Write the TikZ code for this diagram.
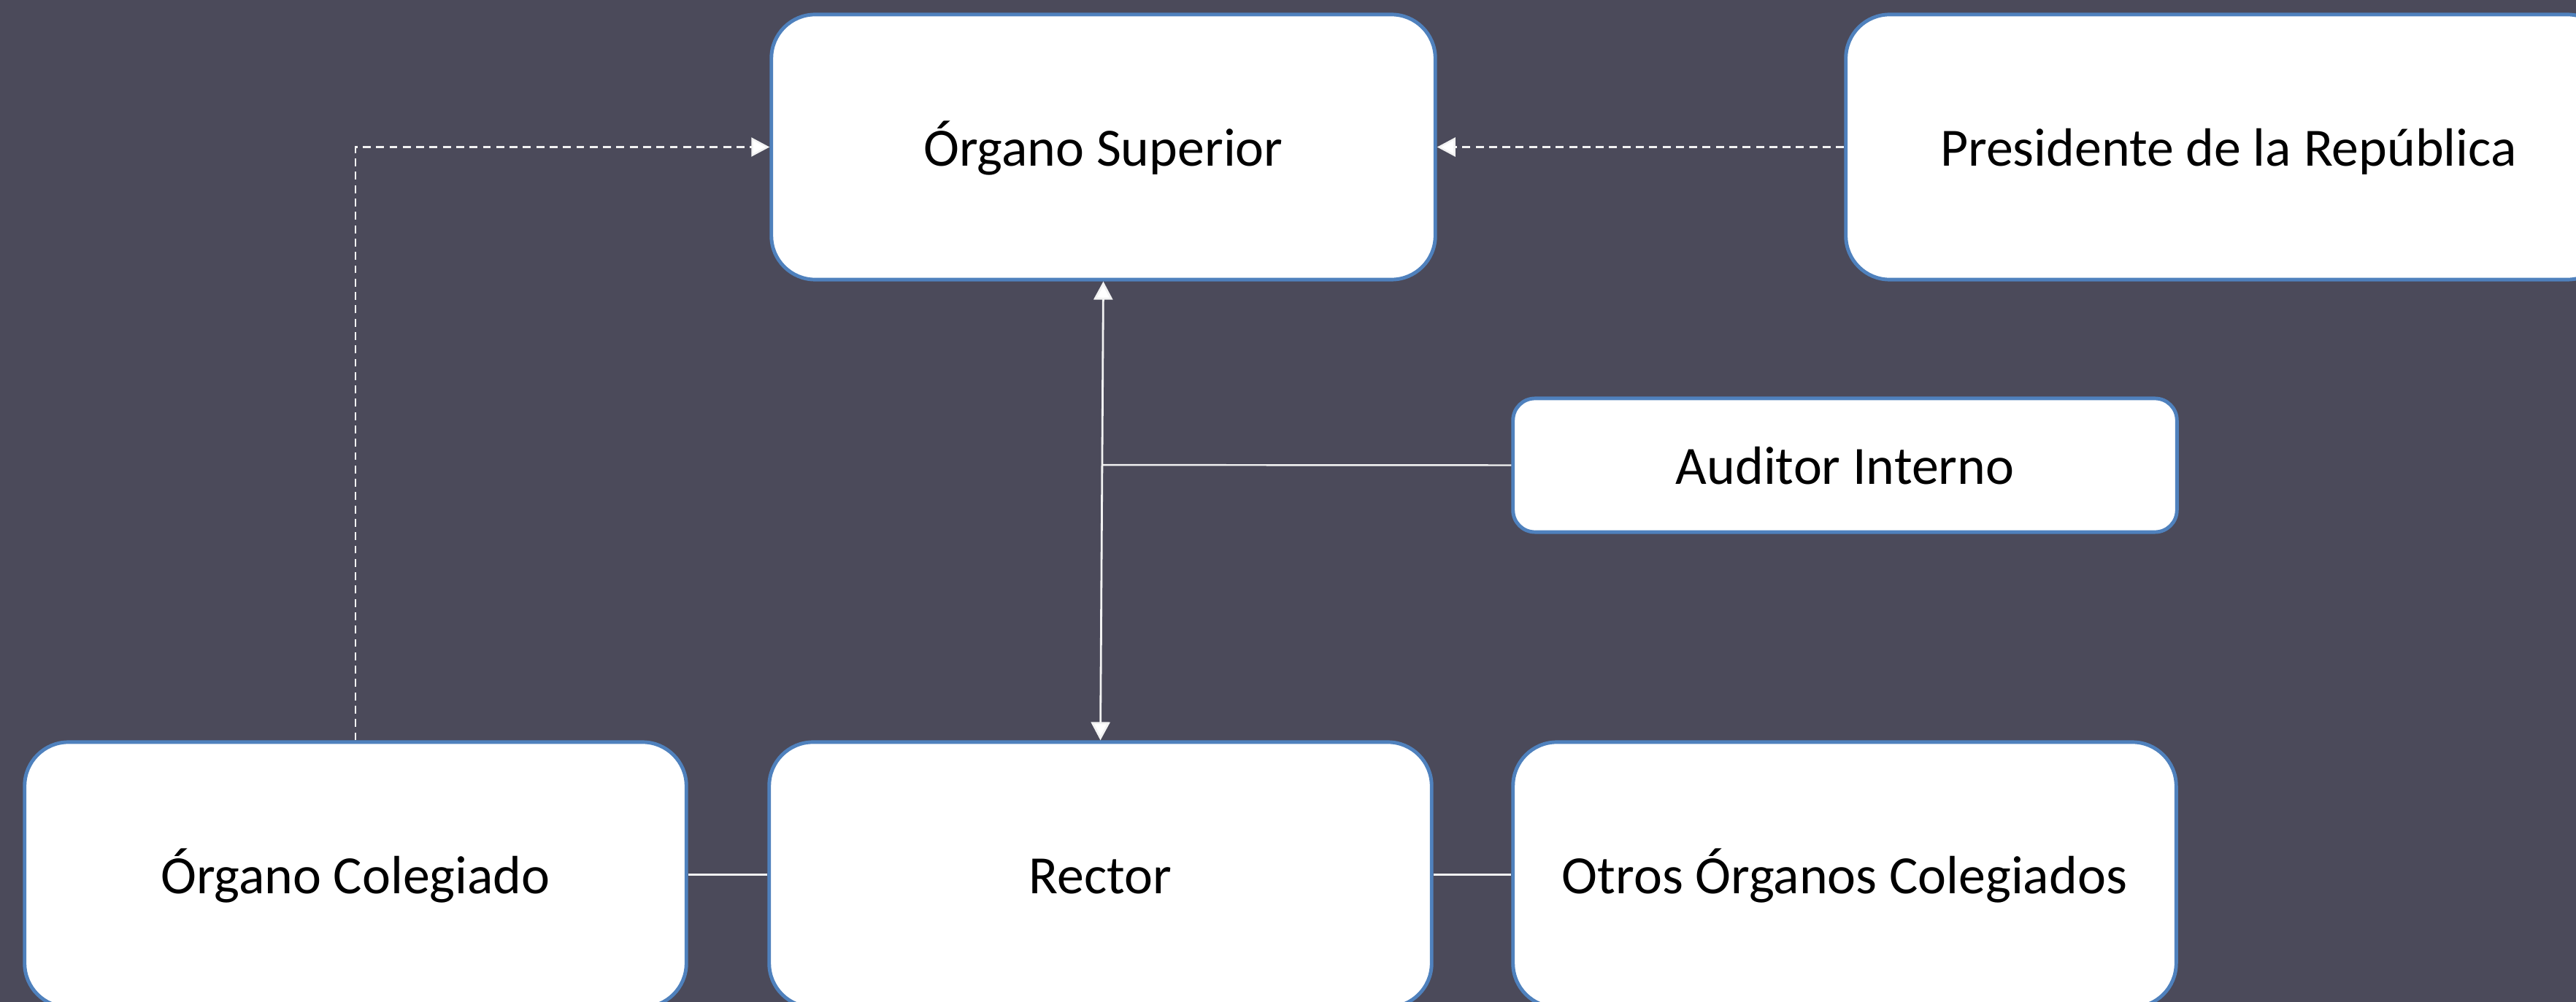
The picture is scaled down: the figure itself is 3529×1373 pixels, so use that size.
\documentclass[tikz,border=0pt]{standalone}
\usepackage{fontspec}
\setmainfont{Carlito}
\usetikzlibrary{arrows.meta,calc}
\definecolor{bgcol}{HTML}{4B4A5A}
\definecolor{bordercol}{HTML}{4F81BD}
\definecolor{linecol}{HTML}{F2F2F2}
\tikzset{
  orgbox/.style={draw=bordercol, fill=white, line width=1.4pt, rounded corners=0.6cm,
    inner sep=0pt, minimum height=3.63cm, font=\fontsize{21}{25}\selectfont, text=black,
    text height=0.6cm, text depth=0.09cm},
  smallbox/.style={orgbox, rounded corners=0.3cm, minimum height=1.83cm},
  link/.style={draw=linecol, line width=0.7pt},
  dashlink/.style={draw=linecol, line width=0.7pt, dash pattern=on 3.1pt off 2.1pt,
    -{Triangle[length=0.25cm,width=0.26cm,fill=white]}},
  dblarrow/.style={draw=linecol, line width=0.8pt,
    {Triangle[length=0.25cm,width=0.26cm,fill=white]}-{Triangle[length=0.25cm,width=0.26cm,fill=white]}}
}
\begin{document}
\begin{tikzpicture}[x=0.01cm,y=-0.01cm]
\useasboundingbox (0,0) rectangle (3529,1373);
\clip (0,0) rectangle (3529,1373);
\fill[bgcol] (0,0) rectangle (3529,1373);

\node[orgbox, minimum width=9.09cm] (sup) at (1511.5,201.5) {Órgano Superior};
\node[orgbox, minimum width=10.48cm] (pres) at (3053,201.5) {Presidente de la República};
\node[smallbox, minimum width=9.09cm] (aud) at (2527.5,637.5) {Auditor Interno};
\node[orgbox, minimum width=9.06cm] (col) at (487,1198.5) {Órgano Colegiado};
\node[orgbox, minimum width=9.07cm] (rec) at (1507.5,1198.5) {Rector};
\node[orgbox, minimum width=9.08cm] (otr) at (2527,1198.5) {Otros Órganos Colegiados};

\draw[dblarrow] (sup.south) -- (rec.north);
\coordinate (j) at ($(sup.south)!0.4!(rec.north)$);
\draw[link] (aud.west) -- (j);
\draw[dashlink] (col.north) |- (sup.west);
\draw[dashlink] (pres.west) -- (sup.east);
\draw[link] (col.east) -- (rec.west);
\draw[link] (rec.east) -- (otr.west);
\end{tikzpicture}
\end{document}
